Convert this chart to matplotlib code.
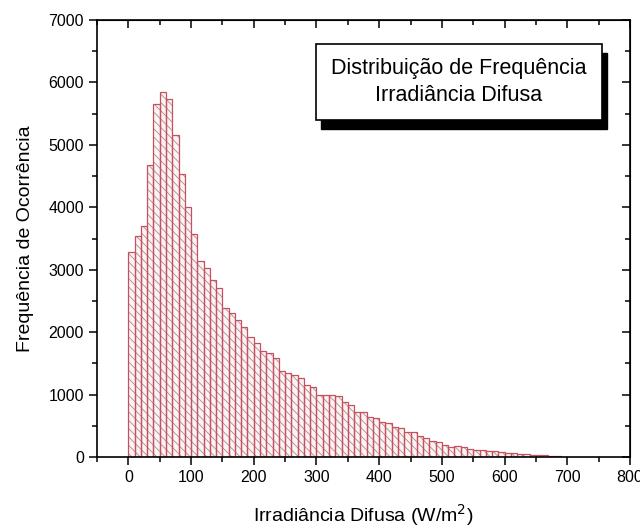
import numpy as np
import matplotlib
matplotlib.use("Agg")
import matplotlib.pyplot as plt
from matplotlib.patches import Rectangle
from matplotlib.ticker import MultipleLocator

plt.rcParams['font.family'] = ['Liberation Sans', 'DejaVu Sans']
plt.rcParams['hatch.linewidth'] = 0.6

bin_width = 10
counts = [3280, 3540, 3700, 4680, 5650, 5850, 5740, 5160, 4530, 4010,
          3570, 3140, 3020, 2830, 2710, 2380, 2310, 2200, 2090, 1930,
          1830, 1700, 1660, 1580, 1380, 1340, 1310, 1260, 1150, 1120,
          1000, 1000, 1000, 980, 875, 830, 715, 715, 635, 620,
          560, 550, 475, 460, 405, 395, 335, 310, 260, 235,
          190, 165, 180, 155, 135, 120, 110, 100, 90, 80,
          70, 60, 50, 45, 40, 30, 25, 18, 12, 8]
bin_left = np.arange(len(counts)) * bin_width

xlabel = "Irradiância Difusa (W/m$^2$)"
ylabel = "Frequência de Ocorrência"
box_text = "Distribuição de Frequência\nIrradiância Difusa"

fig = plt.figure(figsize=(6.4, 5.32), dpi=100)
ax = fig.add_axes([97/640, 1-457/532, (630-97)/640, (457-20)/532])

hatch_color = '#a09098'
edge_color = '#c8505e'
ax.bar(bin_left, counts, width=bin_width, align='edge', facecolor='#fdf3f3',
       edgecolor=hatch_color, linewidth=0, hatch='\\\\\\\\')
ax.bar(bin_left, counts, width=bin_width, align='edge', facecolor='none',
       edgecolor=edge_color, linewidth=0.9)

ax.set_xlim(-50, 800)
ax.set_ylim(0, 7000)
ax.xaxis.set_major_locator(MultipleLocator(100))
ax.xaxis.set_minor_locator(MultipleLocator(50))
ax.yaxis.set_major_locator(MultipleLocator(1000))
ax.yaxis.set_minor_locator(MultipleLocator(500))
ax.tick_params(which='major', direction='out', length=6, width=1.1, labelsize=11.5, colors='black')
ax.tick_params(which='minor', direction='out', length=3.5, width=1.1)
for s in ax.spines.values():
    s.set_linewidth(1.2)

sx = ax.secondary_xaxis('top')
sx.xaxis.set_major_locator(MultipleLocator(100))
sx.xaxis.set_minor_locator(MultipleLocator(50))
sx.tick_params(which='major', direction='in', length=6, width=1.1, labeltop=False)
sx.tick_params(which='minor', direction='in', length=3.5, width=1.1)
sy = ax.secondary_yaxis('right')
sy.yaxis.set_major_locator(MultipleLocator(1000))
sy.yaxis.set_minor_locator(MultipleLocator(500))
sy.tick_params(which='major', direction='in', length=6, width=1.1, labelright=False)
sy.tick_params(which='minor', direction='in', length=3.5, width=1.1)

ax.set_xlabel(xlabel, fontsize=14, labelpad=12)
ax.set_ylabel(ylabel, fontsize=14, labelpad=10)

# legend-like text box with shadow
bx0, bx1, by0, by1 = 316/640, 602/640, 1-120/532, 1-44/532
dx, dy = 5/640, 9/532
fig.patches.append(Rectangle((bx0+dx, by0-dy), bx1-bx0, by1-by0, transform=fig.transFigure,
                             facecolor='black', edgecolor='black', zorder=5))
fig.patches.append(Rectangle((bx0, by0), bx1-bx0, by1-by0, transform=fig.transFigure,
                             facecolor='white', edgecolor='black', linewidth=1.2, zorder=6))
fig.text((bx0+bx1)/2, (by0+by1)/2, box_text, ha='center', va='center', fontsize=15.5,
         linespacing=1.4, zorder=7)

fig.savefig("out.png", dpi=100)
